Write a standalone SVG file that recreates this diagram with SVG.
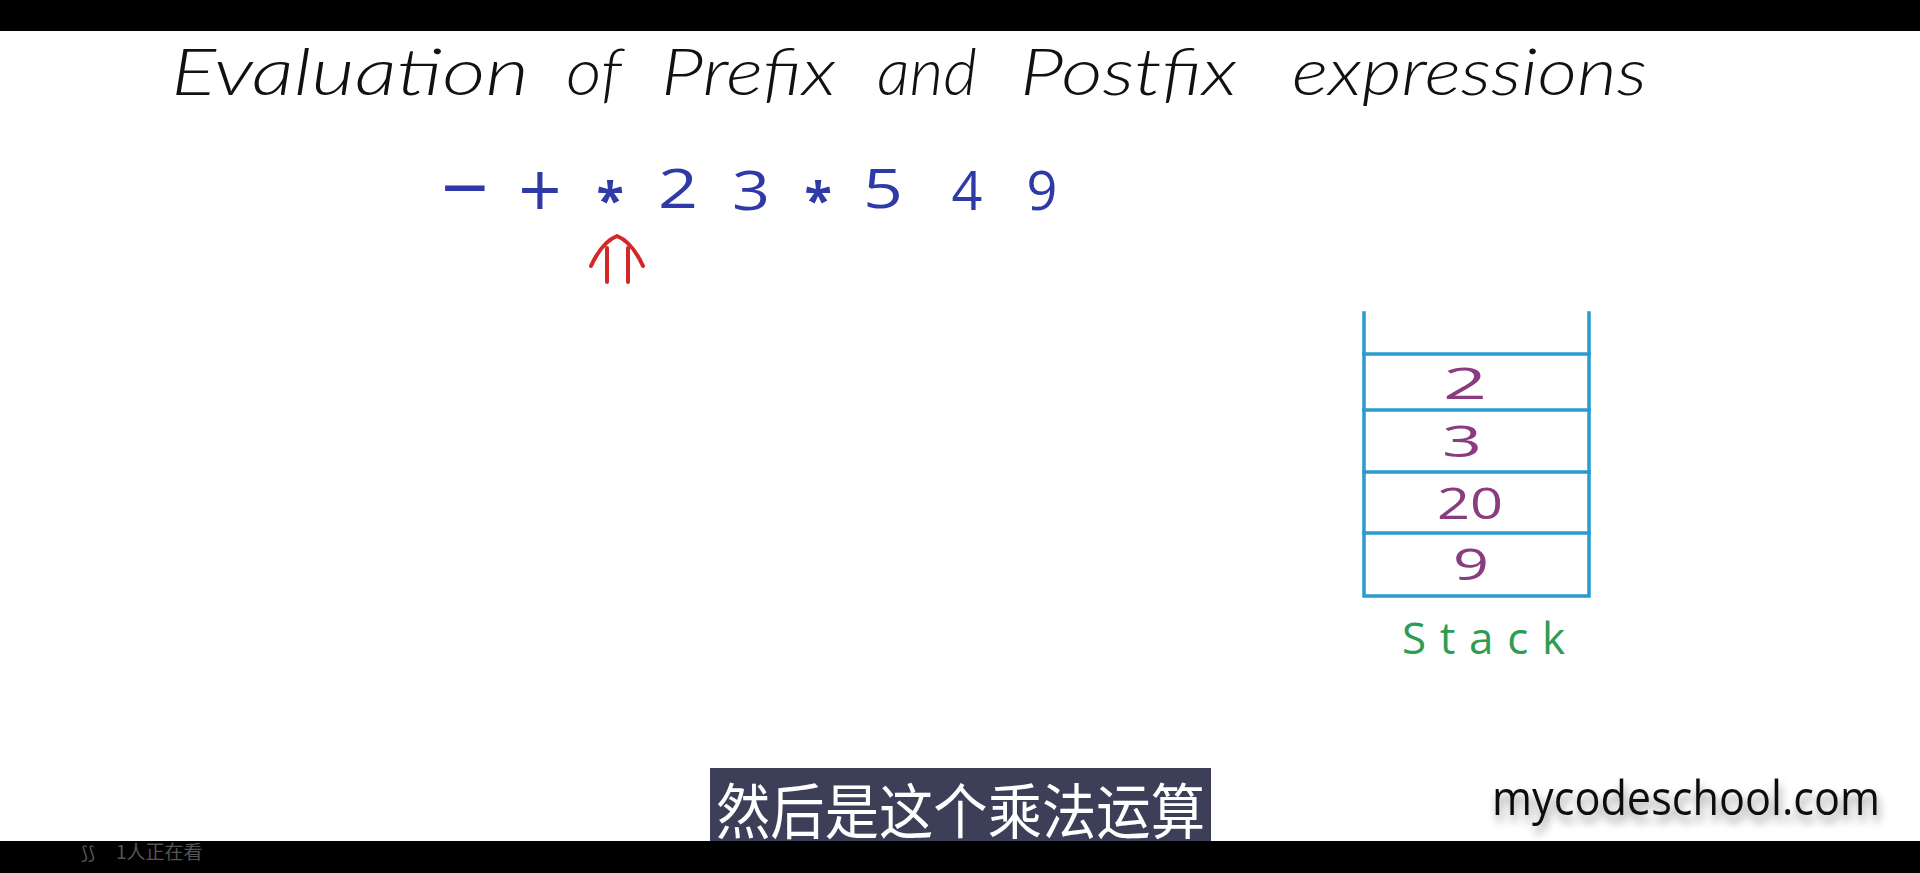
<svg xmlns="http://www.w3.org/2000/svg" width="1920" height="873" viewBox="0 0 1920 873">
<defs>
<style>
.title{font-family:"Lato","Liberation Sans","DejaVu Sans",sans-serif;font-style:italic;font-weight:300;font-size:66px;fill:#111;}
.expr{font-family:"Open Sans","Liberation Sans","DejaVu Sans",sans-serif;fill:#2f3aa6;text-anchor:middle;}
.val{font-family:"Open Sans","Liberation Sans","DejaVu Sans",sans-serif;font-size:44px;fill:#8a3c80;text-anchor:middle;}
.stk{stroke:#2b9bcf;stroke-width:3.5;fill:none;stroke-linecap:square;}
.lbl{font-family:"Open Sans","Liberation Sans","DejaVu Sans",sans-serif;font-size:44px;fill:#2e9c52;}
.sub{font-family:"Noto Sans CJK SC","Noto Sans",sans-serif;font-size:60px;fill:#ffffff;}
.wm{font-family:"Open Sans","Liberation Sans","DejaVu Sans",sans-serif;font-size:48px;fill:#111;}
</style>
<filter id="shadow" x="-10%" y="-40%" width="120%" height="190%">
<feGaussianBlur in="SourceAlpha" stdDeviation="5"/>
<feOffset dx="2" dy="7" result="b"/>
<feComponentTransfer><feFuncA type="linear" slope="0.45"/></feComponentTransfer>
<feMerge><feMergeNode/><feMergeNode in="SourceGraphic"/></feMerge>
</filter>
</defs>
<rect x="0" y="0" width="1920" height="873" fill="#ffffff"/>
<rect id="top-bar" x="0" y="0" width="1920" height="31" fill="#000"/>
<g id="title">
<text class="title" x="171" y="95" textLength="358" lengthAdjust="spacingAndGlyphs">Evaluation</text>
<text class="title" x="566" y="95" textLength="56" lengthAdjust="spacingAndGlyphs">of</text>
<text class="title" x="661" y="95" textLength="175" lengthAdjust="spacingAndGlyphs">Prefix</text>
<text class="title" x="877" y="95" textLength="100" lengthAdjust="spacingAndGlyphs">and</text>
<text class="title" x="1020" y="95" textLength="217" lengthAdjust="spacingAndGlyphs">Postfix</text>
<text class="title" x="1292" y="95" textLength="355" lengthAdjust="spacingAndGlyphs">expressions</text>
</g>
<g id="expression">
<text class="expr" x="465" y="218" font-size="84">−</text>
<text class="expr" x="540" y="218" font-size="76">+</text>
<text class="expr" x="610" y="218" font-size="50" font-weight="bold">*</text>
<text class="expr" x="678" y="208" font-size="54" textLength="40" lengthAdjust="spacingAndGlyphs">2</text>
<text class="expr" x="751" y="210" font-size="54" textLength="38" lengthAdjust="spacingAndGlyphs">3</text>
<text class="expr" x="818" y="218" font-size="50" font-weight="bold">*</text>
<text class="expr" x="883" y="208" font-size="54" textLength="40" lengthAdjust="spacingAndGlyphs">5</text>
<text class="expr" x="967" y="210" font-size="54">4</text>
<text class="expr" x="1042" y="210" font-size="54">9</text>
</g>
<g id="pointer" fill="none" stroke="#d42828" stroke-width="4" stroke-linecap="round" stroke-linejoin="round">
<path d="M607,282 L607,248 M628,282 L628,248"/>
<path d="M591,266 Q602,242 617,236 Q632,242 643,266"/>
</g>
<g id="stack">
<path class="stk" d="M1364,313 L1364,596 L1589,596 L1589,313"/>
<path class="stk" d="M1364,354 L1589,354 M1364,410 L1589,410 M1364,472 L1589,472 M1364,533 L1589,533"/>
<text class="val" x="1465" y="399" textLength="44" lengthAdjust="spacingAndGlyphs">2</text>
<text class="val" x="1462" y="457" textLength="40" lengthAdjust="spacingAndGlyphs">3</text>
<text class="val" x="1470" y="519" textLength="66" lengthAdjust="spacingAndGlyphs">20</text>
<text class="val" x="1471" y="580" font-size="50" textLength="36" lengthAdjust="spacingAndGlyphs">9</text>
<text class="lbl" x="1402" y="654" textLength="163" lengthAdjust="spacing">Stack</text>
</g>
<g id="subtitle">
<rect x="710" y="768" width="501" height="80" fill="#3d3e57"/>
<text class="sub" x="716" y="834" textLength="489" lengthAdjust="spacingAndGlyphs">然后是这个乘法运算</text>
</g>
<g id="watermark">
<text class="wm" x="1492" y="815" textLength="388" lengthAdjust="spacingAndGlyphs" filter="url(#shadow)">mycodeschool.com</text>
</g>
<g id="bottom-bar">
<rect x="0" y="841" width="1920" height="32" fill="#000"/>
<text x="81" y="859" font-family="'Noto Sans CJK SC','Noto Sans',sans-serif" font-size="18" fill="#555">⟆⟆</text>
<text x="116" y="859" font-family="'Noto Sans CJK SC','Noto Sans',sans-serif" font-size="19" fill="#555">1人正在看</text>
</g>
</svg>
